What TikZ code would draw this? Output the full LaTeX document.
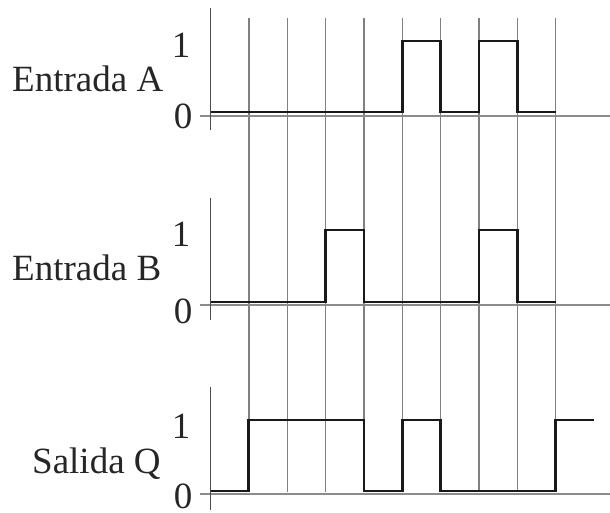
\documentclass[tikz,border=0pt]{standalone}
\usepackage{fontspec}
\setmainfont{Liberation Serif}
\begin{document}
\begin{tikzpicture}[x=1pt,y=-1pt,
  lbl/.style={font=\fontsize{37}{44}\selectfont, inner sep=0pt, text=black!85},
  gridln/.style={draw=black!50, line width=1.4pt},
  axisln/.style={draw=black!70, line width=1.3pt},
  baseln/.style={draw=black!45, line width=1.3pt},
  sig/.style={draw=black!90, line width=2.8pt, line join=miter, line cap=butt}]
\useasboundingbox (0,0) rectangle (610,512);
\fill[white] (0,0) rectangle (610,512);
% grid lines
\foreach \i in {1,...,9} {
  \draw[gridln] ({210.5+38.35*\i},18) -- ({210.5+38.35*\i},492);
}
% panel A
\draw[baseln] (200,116) -- (610,116);
\draw[axisln] (210.5,8) -- (210.5,130);
\node[lbl, anchor=base west] (la) at (12,91) {Entrada A};
\node[lbl, anchor=base] (a1) at (181,57.5) {1};
\node[lbl, anchor=base] (a0) at (183,128) {0};
\draw[sig] (210.5,112) -- (402.25,112) -- (402.25,41) -- (440.6,41) -- (440.6,112)
  -- (478.95,112) -- (478.95,41) -- (517.3,41) -- (517.3,112) -- (555.65,112);
% panel B
\draw[baseln] (200,305) -- (610,305);
\draw[axisln] (210.5,198) -- (210.5,320);
\node[lbl, anchor=base west] (lb) at (12,280) {Entrada B};
\node[lbl, anchor=base] (b1) at (181,246) {1};
\node[lbl, anchor=base] (b0) at (183,323) {0};
\draw[sig] (210.5,302) -- (325.55,302) -- (325.55,230) -- (363.9,230) -- (363.9,302)
  -- (478.95,302) -- (478.95,230) -- (517.3,230) -- (517.3,302) -- (555.65,302);
% panel C
\draw[baseln] (200,494) -- (610,494);
\draw[axisln] (210.5,387) -- (210.5,510);
\node[lbl, anchor=base west] (lq) at (32,473) {Salida Q};
\node[lbl, anchor=base] (q1) at (181,438) {1};
\node[lbl, anchor=base, text depth=0pt] (q0) at (183,508) {0};
\draw[sig] (210.5,491) -- (248.85,491) -- (248.85,420) -- (363.9,420) -- (363.9,491)
  -- (402.25,491) -- (402.25,420) -- (440.6,420) -- (440.6,491)
  -- (555.65,491) -- (555.65,420) -- (594,420);
\end{tikzpicture}
\end{document}
